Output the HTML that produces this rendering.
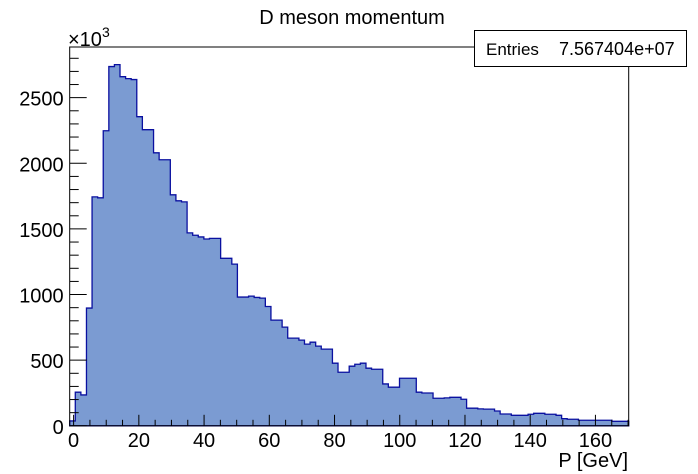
<!DOCTYPE html>
<html><head><meta charset="utf-8"><style>
body{margin:0;background:#fff;}
svg{display:block;font-family:"Liberation Sans",sans-serif;}
</style></head><body>
<svg id="c" width="698" height="474" xmlns="http://www.w3.org/2000/svg">
<rect width="698" height="474" fill="#fff"/>
<text x="352" y="24" font-size="20" text-anchor="middle">D meson momentum</text>
<g id="plot"></g>
<text x="68" y="46" font-size="20">×10<tspan font-size="14" dy="-9">3</tspan></text>
<text x="628" y="467" font-size="20" text-anchor="end">P [GeV]</text>
<g>
<rect x="474.5" y="30.5" width="212" height="36" fill="#fff" stroke="#000"/>
<text x="486" y="55" font-size="17">Entries</text>
<text x="559" y="55" font-size="18">7.567404e+07</text>
</g>
</svg>
<script>
const binCounts=[37,256,235,897,1744,1737,2248,2737,2752,2660,2645,2638,2355,2256,2256,2080,2027,2027,1760,1714,1706,1470,1452,1439,1423,1428,1428,1276,1276,1232,981,981,988,978,973,909,805,805,752,668,668,653,622,637,607,584,584,477,408,408,454,469,477,439,431,431,319,294,294,362,362,362,256,250,250,210,210,213,217,217,202,134,134,129,127,127,113,90,90,80,80,80,88,95,95,88,88,80,54,50,50,42,42,42,42,42,42,34,34,34];
const xTicks=[0,20,40,60,80,100,120,140,160];
const yTicks=[0,500,1000,1500,2000,2500];
const xMin=-1.2,xMax=170.2,yMax=2886;
const L=69.7,R=628.7,T=47,B=425.8;
const sx=v=>L+(v-xMin)/(xMax-xMin)*(R-L);
const sy=v=>B-v/yMax*(B-T);
const NS="http://www.w3.org/2000/svg";
const g=document.getElementById('plot');
function mk(t,a){const e=document.createElementNS(NS,t);for(const k in a)e.setAttribute(k,a[k]);g.appendChild(e);return e;}
const bw=(xMax-xMin)/binCounts.length;
let d="M"+sx(xMin)+","+sy(0);
binCounts.forEach((v,i)=>{const x0=sx(xMin+i*bw),x1=sx(xMin+(i+1)*bw);d+=" L"+x0+","+sy(v)+" L"+x1+","+sy(v);});
d+=" L"+sx(xMax)+","+sy(0)+" Z";
const p=mk('path',{d:d,fill:'#7b9bd2',stroke:'#0a10a0','stroke-width':1.3});


const f=mk('rect',{x:L,y:T,width:R-L,height:B-T,fill:'none',stroke:'#000','stroke-width':1});


for(let v=0;v<=170;v+=5){const x=sx(v);const len=v%20===0?11:6;const t=mk('line',{x1:x,x2:x,y1:B,y2:B-len,stroke:'#000'});

}
xTicks.forEach(v=>{const t=mk('text',{x:sx(v),y:B+21,'font-size':20,'text-anchor':'middle'});t.textContent=v;

});
for(let v=0;v<=2800;v+=100){const y=sy(v);const len=v%500===0?17:9;const t=mk('line',{x1:L,x2:L+len,y1:y,y2:y,stroke:'#000'});

}
yTicks.forEach(v=>{const t=mk('text',{x:L-6,y:sy(v)+8,'font-size':20,'text-anchor':'end'});t.textContent=v;

});
</script>
</body></html>
